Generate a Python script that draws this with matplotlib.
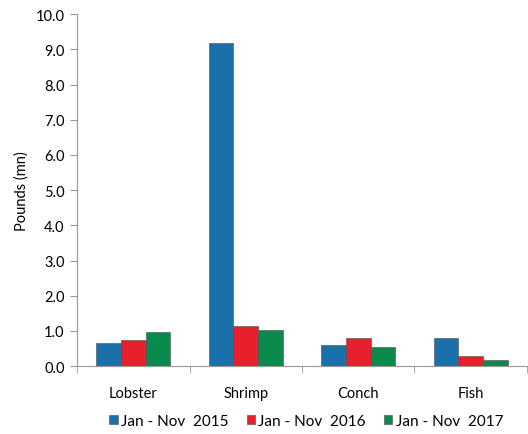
import matplotlib
matplotlib.use("Agg")
import matplotlib.pyplot as plt
import numpy as np
from matplotlib.patches import Patch

plt.rcParams['font.family'] = ['Lato', 'DejaVu Sans']

categories = ["Lobster", "Shrimp", "Conch", "Fish"]
series_labels = ["Jan - Nov  2015", "Jan - Nov  2016", "Jan - Nov  2017"]
v2015 = [0.65, 9.18, 0.60, 0.80]
v2016 = [0.73, 1.15, 0.80, 0.28]
v2017 = [0.96, 1.04, 0.53, 0.17]
yticks = [0.0, 1.0, 2.0, 3.0, 4.0, 5.0, 6.0, 7.0, 8.0, 9.0, 10.0]

colors = ["#1a70a8", "#e8202e", "#0a8a4c"]

fig = plt.figure(figsize=(5.28, 4.35), dpi=100)
ax = fig.add_axes([0.146, 0.156, 0.852, 0.809])

x = np.arange(len(categories))
w = 0.22
for i, (vals, c) in enumerate(zip([v2015, v2016, v2017], colors)):
    pos = x + (i - 1) * w
    ax.bar(pos, vals, width=w, color=c, edgecolor="#4a4a4a", linewidth=0.4, zorder=2)

ax.set_xlim(-0.5, len(categories) - 0.5)
ax.set_ylim(0, 10)
ax.set_yticks(yticks)
ax.set_yticklabels([f"{t:.1f}" for t in yticks], fontsize=10.5)
ax.set_xticks(x)
ax.set_xticklabels(categories, fontsize=10.5)
ax.tick_params(axis="x", length=0, pad=14)
ax.set_xticks(np.arange(-0.5, len(categories)), minor=True)
ax.tick_params(axis="x", which="minor", length=5, color="#999999")
ax.tick_params(axis="y", length=5, color="#999999", pad=4)
ax.set_ylabel("Pounds (mn)", fontsize=10.5, labelpad=5)

for s in ["top", "right"]:
    ax.spines[s].set_visible(False)
for s in ["left", "bottom"]:
    ax.spines[s].set_color("#999999")
    ax.spines[s].set_linewidth(0.8)

handles = [Patch(facecolor=c, edgecolor="#4a4a4a", linewidth=0.4) for c in colors]
fig.legend(handles, series_labels, loc="center", bbox_to_anchor=(0.58, 0.03), ncol=3,
           frameon=False, fontsize=11, handlelength=0.55, handleheight=0.55,
           handletextpad=0.2, columnspacing=1.2)

fig.savefig("out.png", dpi=100)
